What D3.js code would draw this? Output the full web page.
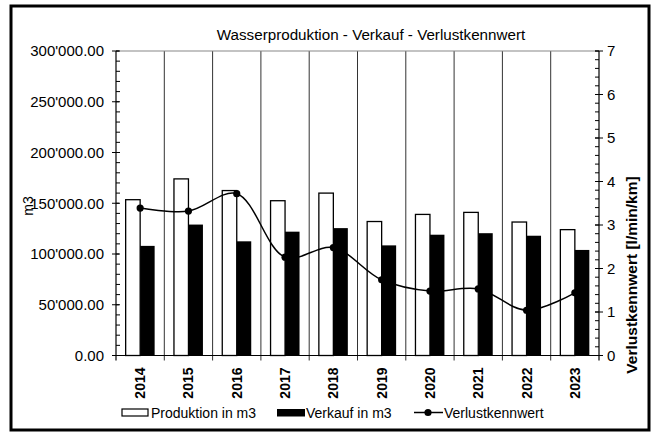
<!DOCTYPE html>
<html><head><meta charset="utf-8">
<script src="https://cdn.jsdelivr.net/npm/d3@7"></script>
<style>body{margin:0;background:#fff}svg{display:block;font-family:"Liberation Sans",Arial,sans-serif}</style>
</head><body>
<svg id="c" width="654" height="432"></svg>
<script>
const years = ["2014","2015","2016","2017","2018","2019","2020","2021","2022","2023"];
const produktion = [153500,174000,162500,152500,160000,132000,139000,141000,131500,124000];
const verkauf = [108000,129000,112500,122000,125500,108500,119000,120500,118000,104000];
const verlust = [3.39,3.32,3.72,2.26,2.48,1.74,1.48,1.53,1.04,1.44];
const leftTicks = [0,50000,100000,150000,200000,250000,300000];
const rightTicks = [0,1,2,3,4,5,6,7];
const title = "Wasserproduktion - Verkauf - Verlustkennwert";
const leftTitle = "m3";
const rightTitle = "Verlustkennwert [l/min/km]";
const legendLabels = ["Produktion in m3","Verkauf in m3","Verlustkennwert"];

const svg = d3.select("#c");
const L = 116, R = 599, T = 51, B = 355.5;

// outer frame
svg.append("rect").attr("x",11).attr("y",6).attr("width",638).attr("height",424)
  .attr("fill","#fff").attr("stroke","#000").attr("stroke-width",3);

const x = d3.scaleBand().domain(years).range([L,R]).padding(0);
const yL = d3.scaleLinear().domain([0,300000]).range([B,T]);
const yR = d3.scaleLinear().domain([0,7]).range([B,T]);

// title
svg.append("text").attr("x",371).attr("y",40).attr("text-anchor","middle")
  .attr("font-size",15.2).text(title);

// vertical gridlines at category boundaries
const bounds = years.slice(1).map(d => x(d));
svg.append("g").selectAll("line").data(bounds).join("line")
  .attr("x1",d=>d).attr("x2",d=>d).attr("y1",T).attr("y2",B+5)
  .attr("stroke","#333").attr("stroke-width",1);
// top border
svg.append("line").attr("x1",L).attr("x2",R).attr("y1",T).attr("y2",T)
  .attr("stroke","#888").attr("stroke-width",1.2);

// bars
const bw = x.bandwidth()*0.3;
svg.append("g").selectAll("rect").data(years).join("rect")
  .attr("x",(d)=>x(d)+x.bandwidth()*0.2).attr("width",bw)
  .attr("y",(d,i)=>yL(produktion[i])).attr("height",(d,i)=>B-yL(produktion[i]))
  .attr("fill","#fff").attr("stroke","#000").attr("stroke-width",1.3);
svg.append("g").selectAll("rect").data(years).join("rect")
  .attr("x",(d)=>x(d)+x.bandwidth()*0.5).attr("width",bw)
  .attr("y",(d,i)=>yL(verkauf[i])).attr("height",(d,i)=>B-yL(verkauf[i]))
  .attr("fill","#000");

// axes
const fmt = v => d3.format(",.2f")(v).replace(/,/g,"'");
const leftAx = svg.append("g").attr("transform",`translate(${L},0)`);
leftAx.append("line").attr("y1",T).attr("y2",B+5).attr("stroke","#000").attr("stroke-width",1.2);
leftAx.selectAll(".minor").data(d3.range(0,300001,10000)).join("line")
  .attr("x1",0).attr("x2",4).attr("y1",d=>yL(d)).attr("y2",d=>yL(d)).attr("stroke","#000");
leftAx.selectAll(".major").data(leftTicks).join("line")
  .attr("x1",-4).attr("x2",3).attr("y1",d=>yL(d)).attr("y2",d=>yL(d)).attr("stroke","#000");
leftAx.selectAll("text").data(leftTicks).join("text")
  .attr("x",-12).attr("y",d=>yL(d)).attr("dy","0.36em").attr("text-anchor","end")
  .attr("font-size",15).text(fmt);

const rightAx = svg.append("g").attr("transform",`translate(${R},0)`);
rightAx.append("line").attr("y1",T).attr("y2",B+5).attr("stroke","#000").attr("stroke-width",1.2);
rightAx.selectAll(".minor").data(d3.range(0,36).map(i=>i*0.2)).join("line")
  .attr("x1",-4).attr("x2",0).attr("y1",d=>yR(d)).attr("y2",d=>yR(d)).attr("stroke","#000");
rightAx.selectAll(".major").data(rightTicks).join("line")
  .attr("x1",-4).attr("x2",4).attr("y1",d=>yR(d)).attr("y2",d=>yR(d)).attr("stroke","#000");
rightAx.selectAll("text").data(rightTicks).join("text")
  .attr("x",8).attr("y",d=>yR(d)).attr("dy","0.36em").attr("text-anchor","start")
  .attr("font-size",15).text(d=>d);

// x axis
svg.append("line").attr("x1",L-4).attr("x2",R+4).attr("y1",B).attr("y2",B).attr("stroke","#000").attr("stroke-width",1.2);
svg.append("g").selectAll("text").data(years).join("text")
  .attr("transform",d=>`translate(${x(d)+x.bandwidth()/2+5},${B+12}) rotate(-90)`)
  .attr("text-anchor","end").attr("font-size",14).attr("font-weight","bold").text(d=>d);

// axis titles
svg.append("text").attr("transform",`translate(33,206) rotate(-90)`).attr("text-anchor","middle")
  .attr("font-size",14).text(leftTitle);
svg.append("text").attr("transform",`translate(637,275) rotate(-90)`).attr("text-anchor","middle")
  .attr("font-size",15.5).attr("font-weight","bold").text(rightTitle);

// line
const cx = d => x(d)+x.bandwidth()/2;
const line = d3.line().x((d,i)=>cx(years[i])).y(d=>yR(d)).curve(d3.curveCatmullRom.alpha(0.5));
svg.append("path").attr("d",line(verlust)).attr("fill","none").attr("stroke","#000").attr("stroke-width",1.5);
svg.append("g").selectAll("circle").data(verlust).join("circle")
  .attr("cx",(d,i)=>cx(years[i])).attr("cy",d=>yR(d)).attr("r",3.6).attr("fill","#000");

// legend
const ly = 412.5;
svg.append("rect").attr("x",122).attr("y",ly-3.5).attr("width",26).attr("height",7)
  .attr("fill","#fff").attr("stroke","#000").attr("stroke-width",1.2);
svg.append("text").attr("x",151).attr("y",ly+5).attr("font-size",14).text(legendLabels[0]);
svg.append("rect").attr("x",277).attr("y",ly-3.5).attr("width",28).attr("height",7.5).attr("fill","#000");
svg.append("text").attr("x",306).attr("y",ly+5).attr("font-size",14).text(legendLabels[1]);
svg.append("line").attr("x1",414).attr("x2",443).attr("y1",ly).attr("y2",ly).attr("stroke","#000").attr("stroke-width",1.5);
svg.append("circle").attr("cx",428).attr("cy",ly).attr("r",3.6).attr("fill","#000");
svg.append("text").attr("x",444).attr("y",ly+5).attr("font-size",14).text(legendLabels[2]);
</script>
</body></html>
